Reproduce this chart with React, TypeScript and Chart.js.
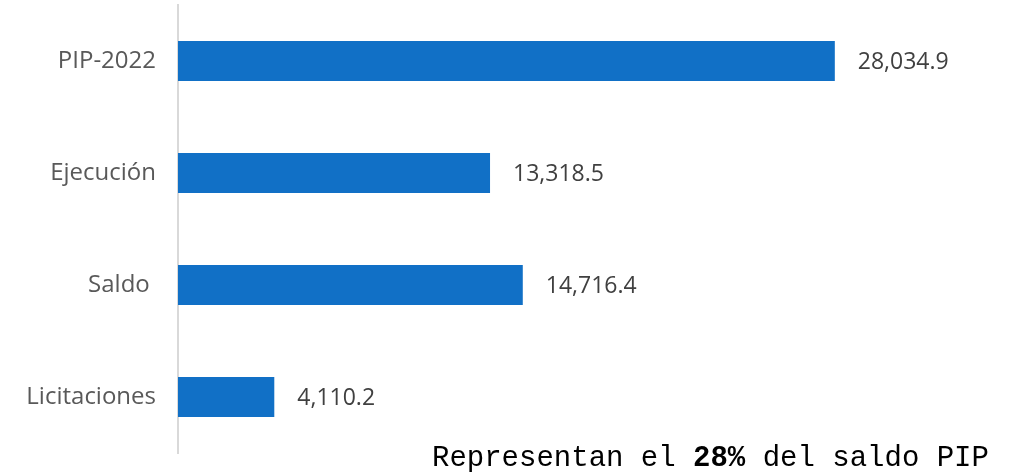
import React, { useEffect, useRef } from "react";
import { Chart, registerables } from "chart.js";

Chart.register(...registerables);

const categories = ["PIP-2022", "Ejecución", "Saldo ", "Licitaciones"];
const values = [28034.9, 13318.5, 14716.4, 4110.2];
const xMax = 35000;
const noteBefore = "Representan el ";
const noteBold = "28%";
const noteAfter = " del saldo PIP";

const LABEL_FONT = "'Open Sans', sans-serif";

const valueLabels = {
  id: "valueLabels",
  afterDatasetsDraw(chart: any) {
    const ctx = chart.ctx;
    const meta = chart.getDatasetMeta(0);
    ctx.save();
    ctx.font = `23px ${LABEL_FONT}`;
    ctx.fillStyle = "#404040";
    ctx.textAlign = "left";
    ctx.textBaseline = "middle";
    meta.data.forEach((bar: any, i: number) => {
      const txt = values[i].toLocaleString("en-US", {
        minimumFractionDigits: 1,
        maximumFractionDigits: 1,
      });
      ctx.fillText(txt, bar.x + 23, bar.y + 1);
    });
    ctx.restore();
  },
};

const bottomNote = {
  id: "bottomNote",
  afterDraw(chart: any) {
    const ctx = chart.ctx;
    ctx.save();
    ctx.fillStyle = "#000000";
    ctx.textBaseline = "alphabetic";
    ctx.textAlign = "left";
    const y = 466;
    let x = 432;
    const mono = "29px 'Liberation Mono', monospace";
    const bold = "bold 29px 'Liberation Mono', monospace";
    ctx.font = mono;
    ctx.fillText(noteBefore, x, y);
    x += ctx.measureText(noteBefore).width;
    ctx.font = bold;
    ctx.fillText(noteBold, x, y);
    x += ctx.measureText(noteBold).width;
    ctx.font = mono;
    ctx.fillText(noteAfter, x, y);
    ctx.restore();
  },
};

export default function App() {
  const ref = useRef<HTMLCanvasElement | null>(null);

  useEffect(() => {
    document.body.style.margin = "0";
    if (!ref.current) return;
    const chart = new Chart(ref.current, {
      type: "bar",
      data: {
        labels: categories,
        datasets: [
          {
            data: values,
            backgroundColor: "#1170c6",
            borderWidth: 0,
            barPercentage: 0.357,
            categoryPercentage: 1,
          },
        ],
      },
      options: {
        indexAxis: "y",
        animation: false,
        responsive: true,
        maintainAspectRatio: false,
        layout: { padding: { top: 5, bottom: 19, right: 27, left: 0 } },
        plugins: {
          legend: { display: false },
          tooltip: { enabled: false },
          title: { display: false },
        },
        scales: {
          x: {
            display: false,
            min: 0,
            max: xMax,
          },
          y: {
            afterFit(scale: any) {
              scale.width = 178;
              scale.paddingTop = 0;
              scale.paddingBottom = 0;
            },
            grid: { display: false, drawTicks: false },
            border: { display: true, color: "#d9d9d9", width: 2 },
            ticks: {
              padding: 22,
              color: "#595959",
              font: { family: LABEL_FONT, size: 24 },
            },
          },
        },
      },
      plugins: [valueLabels, bottomNote],
    });
    return () => chart.destroy();
  }, []);

  return (
    <div style={{ width: 1025, height: 472, position: "relative" }}>
      <canvas ref={ref} />
    </div>
  );
}
